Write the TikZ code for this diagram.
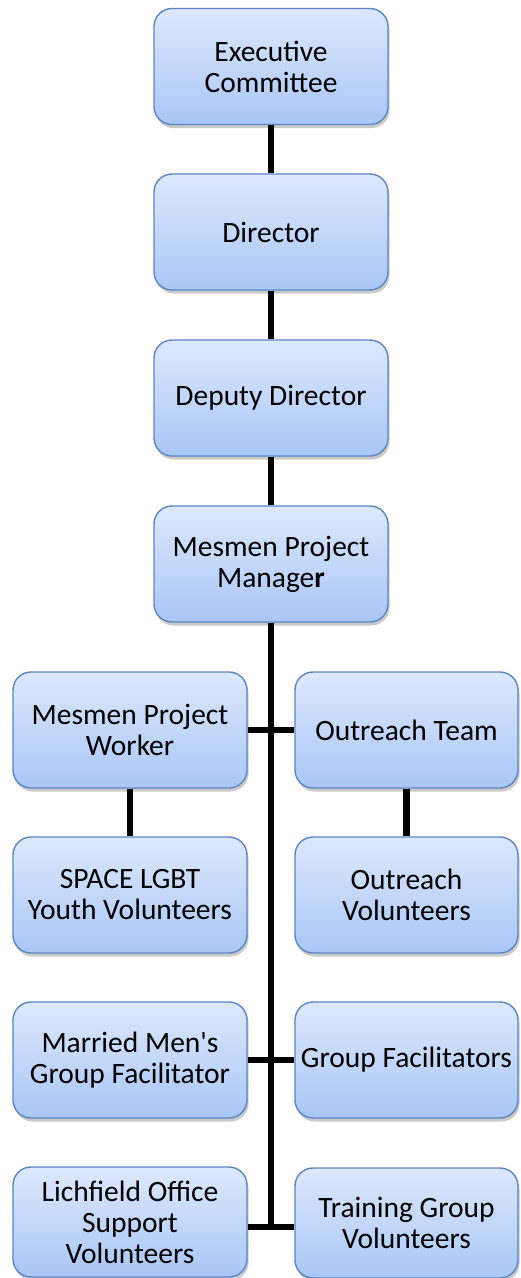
\documentclass[tikz,border=0pt]{standalone}
\usepackage{fontspec}
\setmainfont{Carlito}
\newfontfamily\plaincarlito{Carlito}
\usetikzlibrary{shadows}
\definecolor{boxtop}{HTML}{DDE8FC}
\definecolor{boxbot}{HTML}{A9C6F6}
\definecolor{boxline}{HTML}{5A86C3}
\newcommand{\straightquote}{{\plaincarlito '}}
\begin{document}
\begin{tikzpicture}[x=1pt,y=-1pt,
  orgbox/.style={draw=boxline, line width=1.4pt, rounded corners=18pt,
    top color=boxtop, bottom color=boxbot, minimum width=234pt, minimum height=116pt,
    align=center, inner sep=2pt, text=black,
    font=\fontsize{29.5}{31}\selectfont,
    drop shadow={shadow xshift=1.5pt, shadow yshift=-3.5pt, opacity=0.35, fill=black!60}},
  rbox/.style={orgbox, minimum width=223pt},
  link/.style={line width=6.5pt, black}]
\useasboundingbox (0,0) rectangle (520,1278);
\node[orgbox] (ec) at (271,66.5) {Executive\\Committee};
\node[orgbox] (dir) at (271,232) {Director};
\node[orgbox] (dep) at (271,398) {Deputy Director};
\node[orgbox] (pm) at (271,564) {Mesmen Project\\Manage\textbf{r}};
\node[orgbox] (pw) at (130,730) {Mesmen Project\\Worker};
\node[rbox] (ot) at (406.5,730) {Outreach Team};
\node[orgbox] (sp) at (130,895) {SPACE LGBT\\Youth Volunteers};
\node[rbox] (ov) at (406.5,895) {Outreach\\Volunteers};
\node[orgbox] (mm) at (130,1060) {Married Men\straightquote s\\Group Facilitator};
\node[rbox] (gf) at (406.5,1060) {Group Facilitators};
\node[orgbox, minimum height=110pt] (lo) at (130,1222) {Lichfield Office\\Support\\Volunteers};
\node[rbox, minimum height=110pt] (tg) at (406.5,1223) {Training Group\\Volunteers};
\coordinate (j) at (271,1227);
\draw[link] (ec) -- (dir);
\draw[link] (dir) -- (dep);
\draw[link] (dep) -- (pm);
\draw[link] (pm.south) -- (j);
\draw[link] (pw.east) -- (ot.west);
\draw[link] (mm.east) -- (gf.west);
\draw[link] (lo.east |- j) -- (tg.west |- j);
\draw[link] (pw) -- (sp);
\draw[link] (ot) -- (ov);
\end{tikzpicture}
\end{document}
